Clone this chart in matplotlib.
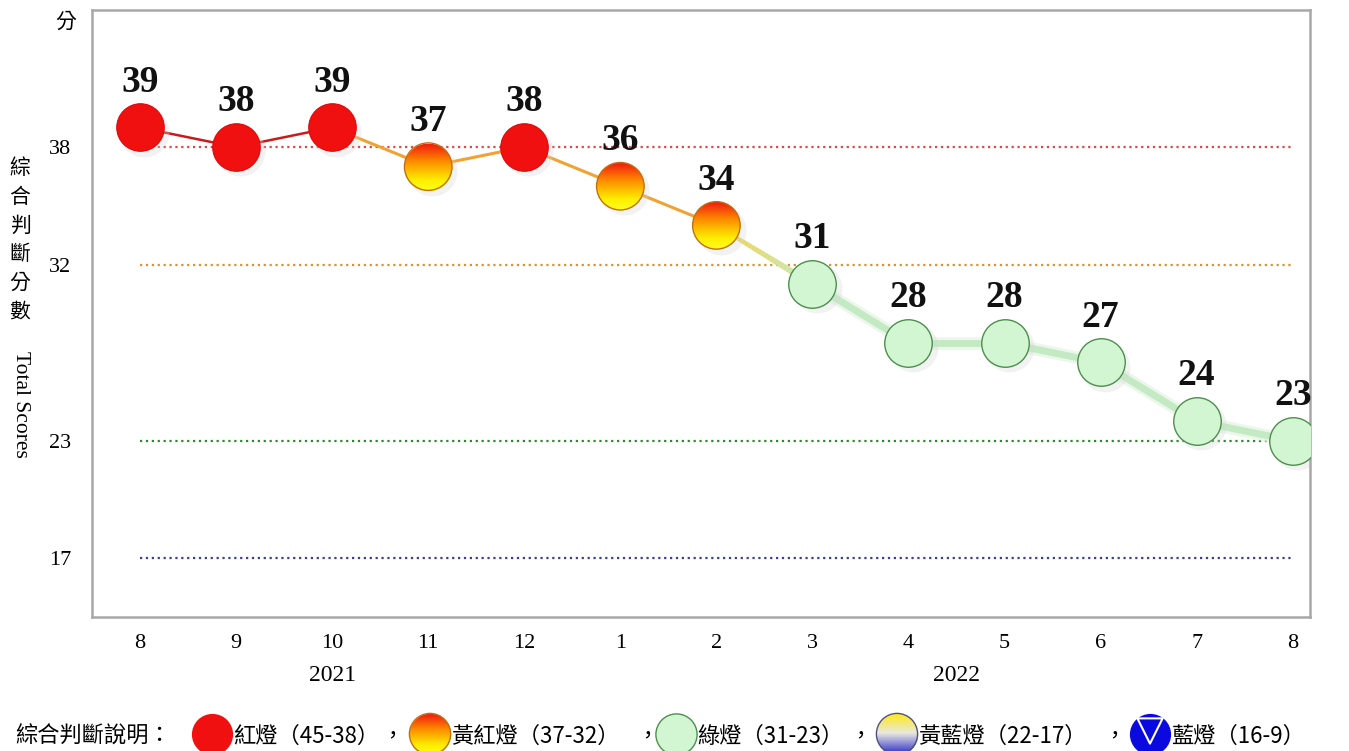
import numpy as np
import matplotlib
matplotlib.use("Agg")
import matplotlib.pyplot as plt
from matplotlib.path import Path
from matplotlib.colors import to_rgb
import matplotlib.transforms as mtransforms

# ---------------- data ----------------
months = ["8", "9", "10", "11", "12", "1", "2", "3", "4", "5", "6", "7", "8"]
scores = [39, 38, 39, 37, 38, 36, 34, 31, 28, 28, 27, 24, 23]
years = ["2021", "2022"]
year_pos = [2, 8.5]
ref_levels = [38, 32, 23, 17]
ytick_vals = [17, 23, 32, 38]
legend_labels = ["紅燈（45-38）", "黃紅燈（37-32）", "綠燈（31-23）", "黃藍燈（22-17）", "藍燈（16-9）"]

CJK = ["Noto Sans CJK TC", "DejaVu Sans"]
SERIF = ["Liberation Serif", "DejaVu Serif"]


def light_of(v):
    if v >= 38:
        return "red"
    if v >= 32:
        return "yr"
    if v >= 23:
        return "green"
    if v >= 17:
        return "yb"
    return "blue"


# ---------------- helpers ----------------
def band_marker(k, n, overlap=0.03):
    y0 = -1 + 2 * k / n - overlap
    y1 = -1 + 2 * (k + 1) / n + overlap
    y0, y1 = max(y0, -1), min(y1, 1)
    ys = np.linspace(y0, y1, 12)
    xr = np.sqrt(np.clip(1 - ys ** 2, 0, 1))
    verts = [(0, 1)] + list(zip(xr, ys)) + list(zip(-xr[::-1], ys[::-1])) + [(xr[0], ys[0])]
    codes = [Path.MOVETO, Path.MOVETO] + [Path.LINETO] * (2 * len(ys) - 1) + [Path.CLOSEPOLY]
    return Path(verts, codes)


def grad_color(stops, t):
    for (p0, c0), (p1, c1) in zip(stops[:-1], stops[1:]):
        if p0 <= t <= p1:
            f = (t - p0) / (p1 - p0) if p1 > p0 else 0
            a, b = np.array(to_rgb(c0)), np.array(to_rgb(c1))
            return tuple(a + (b - a) * f)
    return to_rgb(stops[-1][1])


def grad_scatter(ax, x, y, s, stops, edge, zorder, n=40):
    for k in range(n):
        t = 1 - (k + 0.5) / n  # k=0 is bottom band
        ax.scatter(x, y, s=s, marker=band_marker(k, n), color=[grad_color(stops, t)],
                   linewidths=0, zorder=zorder)
    ax.scatter(x, y, s=s, marker="o", facecolors="none", edgecolors=edge,
               linewidths=1.0, zorder=zorder + 0.1)


YR_STOPS = [(0, "#f01e10"), (0.35, "#ff8a00"), (0.75, "#ffee00"), (1, "#ffff20")]
YB_STOPS = [(0, "#ffe820"), (0.45, "#e8e8e0"), (1, "#1c1cc8")]

# ---------------- figure ----------------
fig = plt.figure(figsize=(13.49, 7.51), dpi=100)
ax = fig.add_axes([92 / 1349, 1 - 617 / 751, (1310 - 92) / 1349, (617 - 10) / 751])
ax.set_xlim(-0.5, 12.18)
ax.set_ylim(14, 45)

x = np.arange(len(scores))
lights = [light_of(v) for v in scores]

# reference lines
ref_colors = ["#e04848", "#e0902c", "#2e8a2e", "#3a3aa8"]
ax.hlines(ref_levels, 0, len(scores) - 1, colors=ref_colors, linestyles=":", linewidth=1.6, zorder=1)

# connecting segments
line_col = {"red": "#cc1a1a", "yr": "#f2a232", "green": "#c4eac4"}
for i in range(len(scores) - 1):
    a, b = lights[i], lights[i + 1]
    xs = [x[i], x[i + 1]]
    ys = [scores[i], scores[i + 1]]
    if a == "red" and b == "red":
        ax.plot(xs, ys, color=line_col["red"], lw=1.8, zorder=2)
    elif "green" in (a, b) and a != b:
        n = 30
        tt = np.linspace(0, 1, n + 1)
        c0, c1 = np.array(to_rgb("#f4d040")), np.array(to_rgb("#c4eac4"))
        for j in range(n):
            ax.plot([xs[0] + (xs[1] - xs[0]) * tt[j], xs[0] + (xs[1] - xs[0]) * tt[j + 1]],
                    [ys[0] + (ys[1] - ys[0]) * tt[j], ys[0] + (ys[1] - ys[0]) * tt[j + 1]],
                    color=tuple(c0 + (c1 - c0) * (tt[j] + tt[j + 1]) / 2), lw=2.5 + 2.5 * tt[j],
                    solid_capstyle="butt", zorder=2)
    elif a == "green" and b == "green":
        ax.plot(xs, ys, color="#e6f5e6", lw=9, zorder=2, alpha=0.8)
        ax.plot(xs, ys, color=line_col["green"], lw=5, zorder=2.1)
    else:
        ax.plot(xs, ys, color=line_col["yr"], lw=2.2, zorder=2)

# marker shadows
MS = 1170
shadow_tr = mtransforms.offset_copy(ax.transData, fig=fig, x=3, y=-3, units="points")
ax.scatter(x, scores, s=MS * 1.1, color="#d4d4d4", alpha=0.3, linewidths=0, zorder=2.5,
           transform=shadow_tr)

# markers
for li in ["red", "green", "yr"]:
    idx = [i for i, l in enumerate(lights) if l == li]
    xi = x[idx]
    yi = [scores[i] for i in idx]
    if li == "red":
        ax.scatter(xi, yi, s=MS, color="#f01010", edgecolors="#e00808", linewidths=0.8, zorder=3)
    elif li == "green":
        ax.scatter(xi, yi, s=MS, color="#d2f6d2", edgecolors="#4e8e4e", linewidths=1.0, zorder=3)
    else:
        grad_scatter(ax, xi, yi, MS, YR_STOPS, "#c07010", zorder=3)

# value labels
for xi, v in zip(x, scores):
    ax.annotate(str(v), (xi, v), xytext=(0, 20), textcoords="offset points", ha="center",
                va="bottom", fontsize=27, fontweight="bold", family=SERIF, color="#111111", zorder=5)

# axes styling
for sp in ax.spines.values():
    sp.set_color("#a8a8a8")
    sp.set_linewidth(1.8)
ax.set_xticks(x)
ax.set_xticklabels(months, family=SERIF, fontsize=16)
ax.set_yticks(ytick_vals)
ax.set_yticklabels([str(v) for v in ytick_vals], family=SERIF, fontsize=16)
ax.tick_params(axis="x", length=0, pad=12)
ax.tick_params(axis="y", length=0, pad=15)
for xp, yr in zip(year_pos, years):
    ax.text(xp, -0.097, yr, transform=ax.get_xaxis_transform(), ha="center", va="center",
            family=SERIF, fontsize=17)

# outer texts (overlay axes in pixel coordinates)
ov = fig.add_axes([0, 0, 1, 1], facecolor="none")
ov.set_xlim(0, 1349)
ov.set_ylim(751, 0)
ov.axis("off")

ov.text(66, 22, "分", family=CJK, fontsize=15, ha="center", va="center")
ov.text(20, 240, "\n".join("綜合判斷分數"), family=CJK, fontsize=15, ha="center", va="center",
        linespacing=1.4)
ov.text(20, 404, "Total Scores", family=SERIF, fontsize=15.5, ha="center", va="center", rotation=-90)

# legend row
LY = 734
TY = 736
LS = 880
LF = 16
ov.text(15, TY, "綜合判斷說明：", family=CJK, fontsize=LF, ha="left", va="center")
ov.scatter([212], [LY], s=LS, color="#f01010", linewidths=0, zorder=3)
ov.text(233, TY, legend_labels[0], family=CJK, fontsize=LF, ha="left", va="center")
ov.text(392, TY, "，", family=CJK, fontsize=LF, ha="center", va="center")
grad_scatter(ov, [430], [LY], LS, YR_STOPS, "#c07010", zorder=3)
ov.text(451, TY, legend_labels[1], family=CJK, fontsize=LF, ha="left", va="center")
ov.text(647, TY, "，", family=CJK, fontsize=LF, ha="center", va="center")
ov.scatter([676], [LY], s=LS, color="#d2f6d2", edgecolors="#4e8e4e", linewidths=1.0, zorder=3)
ov.text(697, TY, legend_labels[2], family=CJK, fontsize=LF, ha="left", va="center")
ov.text(860, TY, "，", family=CJK, fontsize=LF, ha="center", va="center")
grad_scatter(ov, [897], [LY], LS, YB_STOPS, "#505080", zorder=3)
ov.text(918, TY, legend_labels[3], family=CJK, fontsize=LF, ha="left", va="center")
ov.text(1114, TY, "，", family=CJK, fontsize=LF, ha="center", va="center")
ov.scatter([1150], [LY], s=LS, color="#0a0ae0", linewidths=0, zorder=3)
ov.scatter([1150], [LY - 3], s=330, marker="v", facecolors="none", edgecolors="white",
           linewidths=1.5, zorder=4)
ov.text(1171, TY, legend_labels[4], family=CJK, fontsize=LF, ha="left", va="center")

fig.savefig("out.png", dpi=100)
